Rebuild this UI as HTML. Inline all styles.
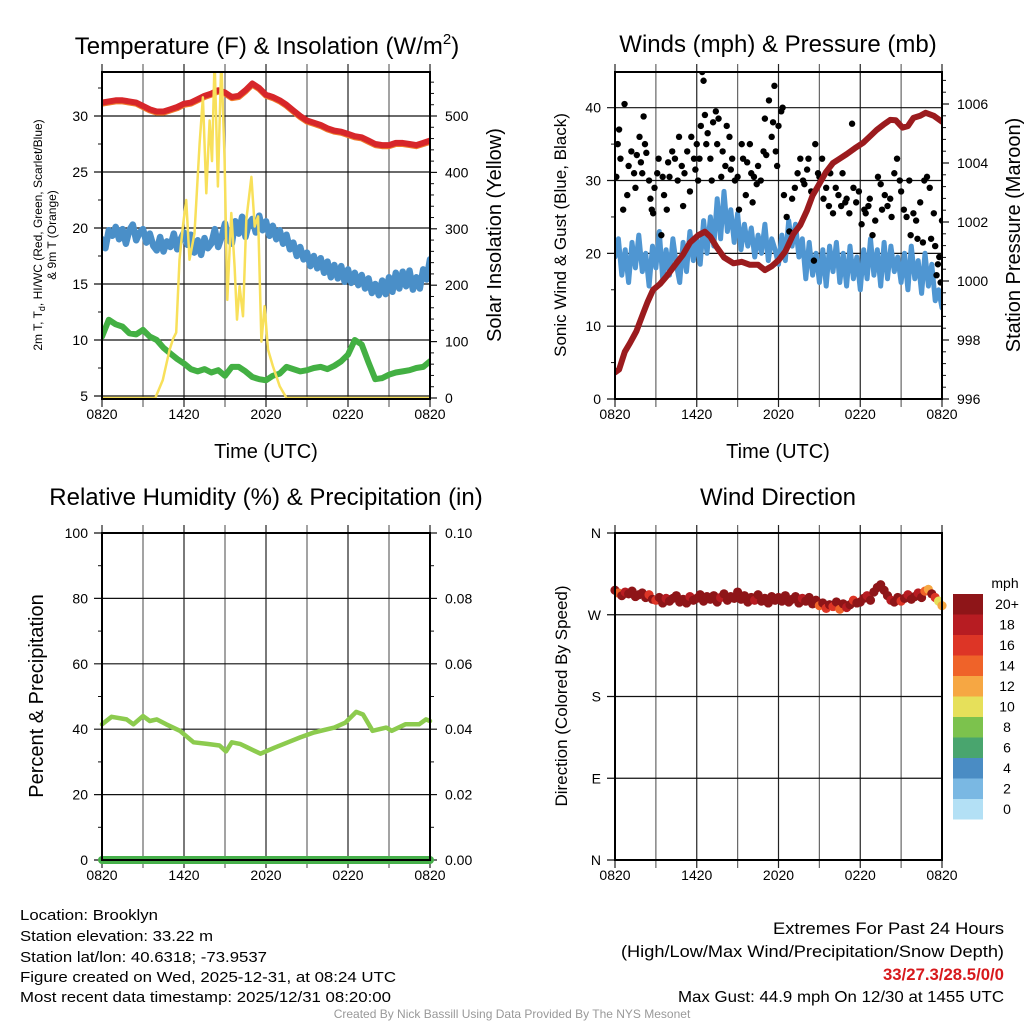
<!DOCTYPE html>
<html><head><meta charset="utf-8">
<style>
html,body{margin:0;padding:0;background:#fff;}
svg{display:block;font-family:"Liberation Sans",Arial,sans-serif;}
</style></head>
<body>
<svg id="chart" width="1024" height="1024" viewBox="0 0 1024 1024" xmlns="http://www.w3.org/2000/svg">
<defs>
<clipPath id="c1"><rect x="102" y="72" width="328" height="327"/></clipPath>
<clipPath id="c2"><rect x="615" y="72" width="327" height="327"/></clipPath>
</defs>
<text x="267" y="54" font-size="24" text-anchor="middle">Temperature (F) &amp; Insolation (W/m<tspan font-size="15" dy="-10">2</tspan><tspan dy="10">)</tspan></text>
<text x="778" y="52" font-size="24" text-anchor="middle">Winds (mph) &amp; Pressure (mb)</text>
<text x="266" y="505" font-size="24" text-anchor="middle">Relative Humidity (%) &amp; Precipitation (in)</text>
<text x="778" y="505" font-size="24" text-anchor="middle">Wind Direction</text>
<text transform="translate(42,235) rotate(-90)" font-size="12" text-anchor="middle">2m T, T<tspan font-size="9" dy="3">d</tspan><tspan dy="-3">, HI/WC (Red, Green, Scarlet/Blue)</tspan></text>
<text transform="translate(56,235) rotate(-90)" font-size="12" text-anchor="middle">&amp; 9m T (Orange)</text>
<text transform="translate(501,235) rotate(-90)" font-size="20" text-anchor="middle">Solar Insolation (Yellow)</text>
<text transform="translate(566,235) rotate(-90)" font-size="17" text-anchor="middle">Sonic Wind &amp; Gust (Blue, Black)</text>
<text transform="translate(1020,235) rotate(-90)" font-size="20" text-anchor="middle">Station Pressure (Maroon)</text>
<text transform="translate(43,696) rotate(-90)" font-size="20" text-anchor="middle">Percent &amp; Precipitation</text>
<text transform="translate(567,696) rotate(-90)" font-size="17" text-anchor="middle">Direction (Colored By Speed)</text>
<text x="266" y="458" font-size="20" text-anchor="middle">Time (UTC)</text>
<text x="778" y="458" font-size="20" text-anchor="middle">Time (UTC)</text>
<g font-size="15">
<text x="20" y="920" textLength="138" lengthAdjust="spacingAndGlyphs">Location: Brooklyn</text>
<text x="20" y="941" textLength="193" lengthAdjust="spacingAndGlyphs">Station elevation: 33.22 m</text>
<text x="20" y="962" textLength="247" lengthAdjust="spacingAndGlyphs">Station lat/lon: 40.6318; -73.9537</text>
<text x="20" y="982" textLength="376" lengthAdjust="spacingAndGlyphs">Figure created on Wed, 2025-12-31, at 08:24 UTC</text>
<text x="20" y="1002" textLength="371" lengthAdjust="spacingAndGlyphs">Most recent data timestamp: 2025/12/31 08:20:00</text>
</g>
<g>
<text x="773" y="934" font-size="17" textLength="231" lengthAdjust="spacingAndGlyphs">Extremes For Past 24 Hours</text>
<text x="621" y="957" font-size="17" textLength="383" lengthAdjust="spacingAndGlyphs">(High/Low/Max Wind/Precipitation/Snow Depth)</text>
<text x="883" y="980" font-size="17" font-weight="bold" fill="#d7191c" textLength="121" lengthAdjust="spacingAndGlyphs">33/27.3/28.5/0/0</text>
<text x="678" y="1002" font-size="16" textLength="326" lengthAdjust="spacingAndGlyphs">Max Gust: 44.9 mph On 12/30 at 1455 UTC</text>
</g>
<text x="512" y="1018" font-size="12" fill="#999" text-anchor="middle">Created By Nick Bassill Using Data Provided By The NYS Mesonet</text>
<g id="layer"></g>
</svg>
<script>
const xTickLabels = ["0820","1420","2020","0220","0820"];
const halfHours = []; for (let i=0;i<=48;i++) halfHours.push(i/2);
const quarterHours = []; for (let i=0;i<=96;i++) quarterHours.push(i/4);

const tempRed = [31.2,31.3,31.4,31.4,31.3,31.2,30.9,30.6,30.4,30.4,30.6,30.8,31.1,31.2,31.5,31.8,32.0,32.3,32.1,31.7,31.8,32.3,32.9,32.5,31.9,31.7,31.4,31.0,30.5,30.0,29.6,29.4,29.2,28.9,28.7,28.6,28.4,28.2,28.1,27.8,27.5,27.4,27.4,27.6,27.6,27.5,27.4,27.6,27.8];
const dewGreen = [10.3,11.8,11.4,11.2,10.6,10.5,10.9,10.3,10.0,9.3,8.8,8.3,7.9,7.4,7.2,7.4,7.1,7.3,6.8,7.6,7.6,7.2,6.7,6.5,6.4,6.8,7.0,7.6,7.4,7.2,7.3,7.5,7.6,7.4,7.7,8.1,8.7,10.0,9.6,8.0,6.5,6.6,6.9,7.1,7.2,7.3,7.5,7.6,8.1];
const chillBlue = [19.0,18.2,19.8,19.3,20.1,19.0,19.9,18.6,19.8,20.3,18.9,19.6,19.9,18.7,19.5,18.4,18.0,19.2,17.9,18.8,18.3,19.5,18.1,19.0,19.6,18.5,19.4,17.8,18.9,17.6,19.1,18.2,18.6,19.9,18.3,19.2,20.4,19.0,18.6,20.6,19.5,21.0,19.2,20.4,20.8,19.6,21.1,19.8,20.6,19.3,20.2,19.0,19.8,18.6,19.4,18.1,18.7,17.5,18.3,17.2,17.8,16.6,17.5,16.4,17.3,16.0,17.0,15.6,16.7,15.5,16.6,15.2,16.3,15.1,16.0,14.9,15.8,14.6,15.5,14.2,15.0,14.0,15.3,14.1,15.6,14.3,16.0,14.6,16.1,14.8,16.2,14.5,15.6,14.6,16.3,15.4,17.2];
const solarHours = [0,3.9,4.45,4.94,5.2,5.43,5.67,5.9,6.16,6.4,6.77,7.14,7.38,7.63,7.87,8.05,8.24,8.48,8.73,8.97,9.17,9.46,9.7,9.88,10.07,10.32,10.56,10.93,11.17,11.42,11.66,11.9,12.15,12.5,13.0,13.5,24];
const solarValues = [0,0,32,85,105,116,245,300,351,245,292,451,533,363,492,420,600,375,600,422,174,328,233,139,198,145,316,392,304,322,100,163,86,57,21,0,0];

const windSpeed = [19.5,22.0,17.0,20.5,16.0,21.5,18.0,22.5,17.5,20.0,15.5,21.0,18.0,23.0,16.5,20.5,17.0,22.0,18.5,16.0,21.5,17.5,23.0,19.0,22.0,18.5,24.5,20.0,25.0,21.0,27.5,22.0,28.5,23.0,26.0,21.5,25.5,20.5,24.0,21.0,23.5,19.5,22.5,20.0,24.0,19.0,22.0,20.5,18.5,22.5,19.0,24.5,21.0,24.0,19.5,22.0,16.5,21.5,17.0,20.0,16.0,20.5,15.5,21.0,17.5,21.5,16.0,20.0,15.5,21.0,16.5,19.5,15.0,20.5,16.5,22.0,17.0,20.5,15.5,21.5,16.5,21.0,17.5,19.5,16.0,20.0,15.0,21.0,16.5,19.0,14.5,20.0,15.5,18.5,13.5,15.0,12.5];
const gustHours = [0.1,0.2,0.3,0.4,0.6,0.7,0.9,1.0,1.2,1.4,1.5,1.6,1.8,1.9,2.0,2.1,2.2,2.3,2.5,2.6,2.7,2.8,2.9,3.1,3.2,3.4,3.5,3.6,3.8,3.9,4.0,4.2,4.4,4.6,4.7,4.9,5.0,5.1,5.3,5.5,5.6,5.8,5.9,6.0,6.1,6.2,6.3,6.4,6.5,6.6,6.7,6.8,7.0,7.1,7.2,7.4,7.5,7.6,7.8,7.9,8.1,8.2,8.4,8.5,8.6,8.8,9.0,9.1,9.3,9.4,9.6,9.7,9.9,10.0,10.1,10.2,10.4,10.5,10.7,10.9,11.0,11.1,11.3,11.5,11.6,11.7,11.8,11.9,12.0,12.2,12.3,12.4,12.6,12.8,13.0,13.2,13.4,13.6,13.8,13.9,14.1,14.2,14.4,14.6,14.7,14.9,15.0,15.2,15.3,15.5,15.7,15.8,16.0,16.2,16.4,16.6,16.7,16.9,17.0,17.2,17.4,17.5,17.7,17.9,18.1,18.3,18.4,18.6,18.7,18.9,19.1,19.3,19.5,19.6,19.8,20.0,20.2,20.3,20.5,20.7,20.9,21.0,21.2,21.4,21.6,21.7,21.9,22.1,22.2,22.4,22.6,22.7,22.9,23.1,23.2,23.4,23.5,23.6,23.7,23.8,23.9,24.0];
const gustMph = [30.5,35,37,33,26,40.5,28,32,34,31,29,33.5,36,32.5,31,38.8,35,33.8,30,27.5,26,25.5,29,31,33,22.5,30.5,28,26,32.5,30.5,34,33,30,36,32,26.5,31,34,28.5,36,33,31.5,35,30,33,37.5,44.9,43.7,39,35,36.5,33,30,38,39.5,35,38.5,30.5,34,32,37.5,36,31.5,33,30,30.5,26,35,33,28,32.5,35,31,27,30.5,29.5,32,30,34,38.5,33.5,41,36,38,43,34,32,37.5,39.5,40,28,25,23,27.5,29,31,33,30,29.5,31.5,33,28.5,19,35,31,30.5,33,27.5,29,26.5,31,25.5,29,28,26.5,31,27,27.5,25.5,37.8,29,27,28.5,24,26,25.5,26.5,27.5,22.5,24.5,30.5,29.5,26,28,26.5,27.5,25,31,33,30,28.5,26,25,30,22.5,25.5,24.5,22,27,21.5,30,30.5,29,22,25.5,21,17,18.5,19.5,16,24.5];
const pressHours = [0,0.3,0.72,1.1,1.57,2.06,2.4,2.8,3.3,3.77,4.5,5.0,5.5,6.1,6.6,7.0,7.45,8.0,8.7,9.3,9.9,10.5,11.0,11.5,12.0,12.5,13.1,13.6,14.1,14.5,15.0,15.5,16.0,16.5,17.0,17.6,18.2,18.7,19.2,19.7,20.2,20.6,21.1,21.5,21.9,22.4,22.8,23.4,24];
const pressValues = [996.9,997.0,997.6,997.9,998.3,998.9,999.3,999.7,999.9,1000.15,1000.6,1000.9,1001.3,1001.55,1001.67,1001.5,1001.16,1000.8,1000.6,1000.65,1000.55,1000.55,1000.37,1000.5,1000.7,1001.0,1001.6,1001.9,1002.4,1002.9,1003.3,1003.7,1004.0,1004.15,1004.3,1004.5,1004.68,1004.9,1005.12,1005.3,1005.46,1005.45,1005.2,1005.25,1005.53,1005.6,1005.7,1005.6,1005.4];

const humHours = [0,0.7,1.8,2.3,3.0,3.5,4.0,4.7,5.7,6.7,7.7,8.6,9.07,9.5,10.1,10.6,11.6,12.6,13.6,14.5,15.5,17.0,17.8,18.6,19.1,19.8,20.8,21.2,22.2,23.2,23.7,24];
const humValues = [41.5,43.8,43,41.5,44,42.5,43,41.5,39.5,36,35.5,35,33.2,36,35.5,34.5,32.5,34.3,36,37.5,39,40.5,42,45.3,44.5,39.5,40.5,39.5,41.5,41.5,43,42.5];
const precipValues = [0,0];

const dirDegrees = [297,294,291,295,293,296,290,292,294,289,292,287,286,289,283,288,285,288,291,284,287,283,290,286,288,292,285,290,287,291,284,289,293,286,290,288,295,287,291,284,289,286,292,285,288,283,290,286,289,285,291,284,287,290,283,288,285,289,282,286,280,283,277,281,279,284,276,282,278,281,286,283,284,288,291,286,295,300,303,297,291,286,284,289,285,288,292,287,290,294,289,296,298,293,289,285,280];
const dirSpeeds = [22,15,21,19,23,21,20,22,21,24,17,22,16,22,21,19,22,20,23,21,21,22,19,23,24,21,22,20,22,23,21,18,25,21,22,23,21,22,20,24,22,19,23,21,20,22,21,23,22,21,24,20,21,23,22,19,22,20,21,23,15,21,17,22,16,20,14,21,19,22,17,21,21,23,19,22,22,24,21,20,21,18,22,23,17,22,19,21,20,18,22,15,13,21,16,11,13];
const speedBins = ["0","2","4","6","8","10","12","14","16","18","20+"];
const speedColors = ["#b3e0f5","#7ab8e3","#4a8cc4","#49a56e","#7cc24d","#e6e05a","#f6a743","#ef6329","#dd3526","#b71c22","#8e1518"];

const NS = "http://www.w3.org/2000/svg";
const layer = document.getElementById("layer");
function mk(tag, attrs, parent){
  const el = document.createElementNS(NS, tag);
  for (const k in attrs) el.setAttribute(k, attrs[k]);
  (parent||layer).appendChild(el);
  return el;
}
function txt(s, attrs, parent){ const t = mk("text", attrs, parent); t.textContent = s; return t; }
function xScale(p, h){ return p.x0 + h/24*(p.x1-p.x0); }
function linScale(v, d0, d1, r0, r1){ return r0 + (v-d0)/(d1-d0)*(r1-r0); }

const P1 = {x0:102,x1:430,top:72,bot:399};
const P2 = {x0:615,x1:942,top:72,bot:399};
const P3 = {x0:102,x1:430,top:533,bot:860};
const P4 = {x0:615,x1:942,top:533,bot:860};

function yTemp(v){ return linScale(v,5,30,396,116); }
function ySolar(v){ return linScale(v,0,500,398,116); }
function yMph(v){ return linScale(v,0,40,399,107.7); }
function yPress(v){ return linScale(v,996,1006,399,104); }
function yHum(v){ return linScale(v,0,100,860,533); }
function yPrecip(v){ return linScale(v,0,0.1,860,533); }
function yDir(v){ return linScale(v,0,360,860,533); }

function drawPanel(p, name, leftTicks, leftLabels, leftMinor, yL, rightTicks, rightLabels, rightMinor, yR){
  const g = mk("g", {});
  
  
  for (let h=0; h<=24; h+=3){
    const x = xScale(p,h);
    const l = mk("line",{x1:x,y1:p.top-8,x2:x,y2:p.bot+8,stroke:(h%6===0)?"#222":"#666","stroke-width":1.2},g);
    
    
  }
  xTickLabels.forEach((s,i)=>{
    const t = txt(s,{x:xScale(p,i*6),y:p.bot+20,"font-size":14,"text-anchor":"middle"},g);
    
    
  });
  leftTicks.forEach((v,i)=>{
    const y = yL(v);
    const l = mk("line",{x1:p.x0-8,y1:y,x2:p.x1,y2:y,stroke:"#111","stroke-width":1.2},g);
    
    
    const t = txt(leftLabels[i],{x:p.x0-14,y:y+5,"font-size":14,"text-anchor":"end"},g);
    
    
  });
  leftMinor.forEach(v=>{
    const y = yL(v);
    const l = mk("line",{x1:p.x0-4,y1:y,x2:p.x0,y2:y,stroke:"#111","stroke-width":1},g);
    
    
  });
  if (rightTicks){
    rightTicks.forEach((v,i)=>{
      const y = yR(v);
      const l = mk("line",{x1:p.x1,y1:y,x2:p.x1+7,y2:y,stroke:"#111","stroke-width":1.2},g);
      
      
      const t = txt(rightLabels[i],{x:p.x1+15,y:y+5,"font-size":14},g);
      
      
    });
    rightMinor.forEach(v=>{
      const y = yR(v);
      const l = mk("line",{x1:p.x1,y1:y,x2:p.x1+4,y2:y,stroke:"#111","stroke-width":1},g);
      
      
    });
  }
  return g;
}
function frame(p, name){
  const r = mk("rect",{x:p.x0,y:p.top,width:p.x1-p.x0,height:p.bot-p.top,fill:"none",stroke:"#000","stroke-width":2});
  
  
}
function pathFrom(xs, ys){
  return xs.map((x,i)=>(i?"L":"M")+x.toFixed(1)+" "+ys[i].toFixed(1)).join(" ");
}
function seriesLine(hours, vals, p, yf, color, w, clip){
  const d = pathFrom(hours.map(h=>xScale(p,h)), vals.map(yf));
  const a = {d:d,fill:"none",stroke:color,"stroke-width":w,"stroke-linejoin":"round","stroke-linecap":"round"};
  if (clip) a["clip-path"]="url(#"+clip+")";
  return mk("path",a);
}
function range(a,b,s){ const r=[]; for(let v=a; v<=b+1e-9; v+=s) r.push(+v.toFixed(3)); return r; }

const tempTicks=[5,10,15,20,25,30], tempLabels=["5","10","15","20","25","30"];
const solarTicks=[0,100,200,300,400,500], solarLabels=["0","100","200","300","400","500"];
drawPanel(P1,"temperature",tempTicks,tempLabels,[7.5,12.5,17.5,22.5,27.5,32.5],yTemp,solarTicks,solarLabels,range(20,560,20).filter(v=>v%100!==0),ySolar);
let s;
s = seriesLine(quarterHours, chillBlue, P1, yTemp, "#4a8fc8", 6.5, "c1");


s = seriesLine(halfHours, dewGreen, P1, yTemp, "#43b043", 6, "c1");


s = seriesLine(halfHours, tempRed.map(v=>v-0.1), P1, yTemp, "#f07a2a", 6, "c1");


s = seriesLine(halfHours, tempRed, P1, yTemp, "#d7262a", 6, "c1");


s = seriesLine(solarHours, solarValues, P1, ySolar, "#f8e05a", 2.5, "c1");


frame(P1,"temperature");

const mphTicks=[0,10,20,30,40], mphLabels=["0","10","20","30","40"];
const pressTicks=[996,998,1000,1002,1004,1006], pressLabels=["996","998","1000","1002","1004","1006"];
drawPanel(P2,"winds",mphTicks,mphLabels,[5,15,25,35],yMph,pressTicks,pressLabels,range(996.4,1007,0.4).filter(v=>Math.abs(v/2-Math.round(v/2))>0.01),yPress);
s = seriesLine(quarterHours, windSpeed, P2, yMph, "#4f96d2", 5, "c2");


gustHours.forEach((h,i)=>{
  const c = mk("circle",{cx:xScale(P2,h),cy:yMph(gustMph[i]),r:3.2,fill:"#000","clip-path":"url(#c2)"});
  
  
});
s = seriesLine(pressHours, pressValues, P2, yPress, "#9b1b1e", 6, "c2");


frame(P2,"winds");

const humTicks=[0,20,40,60,80,100], humLabels=["0","20","40","60","80","100"];
const precTicks=[0,0.02,0.04,0.06,0.08,0.10], precLabels=["0.00","0.02","0.04","0.06","0.08","0.10"];
drawPanel(P3,"humidity",humTicks,humLabels,[10,30,50,70,90],yHum,precTicks,precLabels,[0.01,0.03,0.05,0.07,0.09],yPrecip);
s = seriesLine(humHours, humValues, P3, yHum, "#8ccb4e", 4.5);


s = seriesLine([0,24], precipValues, P3, yPrecip, "#46b04a", 8);


frame(P3,"humidity");

const dirTicks=[0,90,180,270,360], dirLabels=["N","E","S","W","N"];
drawPanel(P4,"direction",dirTicks,dirLabels,[],yDir,null,null,null,null);
function speedColor(v){ let k=Math.floor(v/2); if(k>10)k=10; if(k<0)k=0; return speedColors[k]; }
quarterHours.forEach((h,i)=>{
  const c = mk("circle",{cx:xScale(P4,h),cy:yDir(dirDegrees[i]),r:4.6,fill:speedColor(dirSpeeds[i])});
  
  
});
frame(P4,"direction");

const cb = mk("g",{});


txt("mph",{x:1005,y:588,"font-size":14,"text-anchor":"middle"},cb);
speedBins.forEach((lab,i)=>{
  const k = speedBins.length-1-i;
  const y = 594 + i*20.5;
  const r = mk("rect",{x:953,y:y,width:30,height:20.5,fill:speedColors[k]},cb);
  
  
  const t = txt(speedBins[k],{x:1007,y:y+15,"font-size":14,"text-anchor":"middle"},cb);
  
  
});
</script>
</body></html>
